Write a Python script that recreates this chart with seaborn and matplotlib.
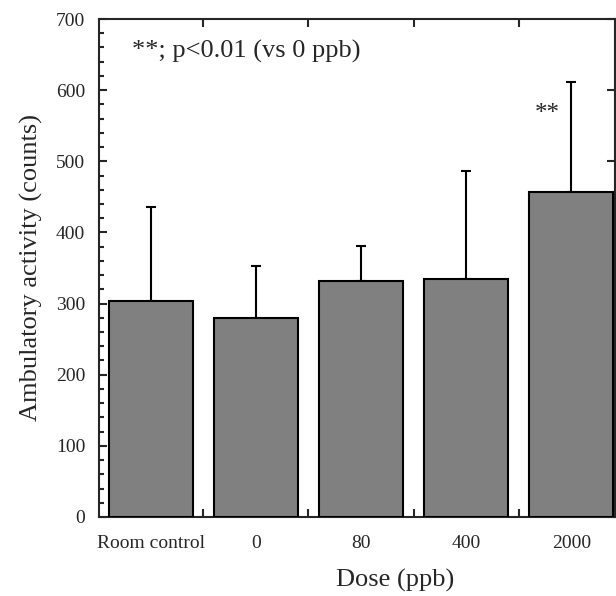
import numpy as np
import pandas as pd
import matplotlib
matplotlib.use('Agg')
import matplotlib.pyplot as plt
import seaborn as sns
from matplotlib.ticker import MultipleLocator, FixedLocator

# values
doses = ['Room control', '0', '80', '400', '2000']
activity = [304, 279, 332, 335, 457]
sd_upper = [132, 74, 49, 152, 154]

df = pd.DataFrame({'dose': doses, 'activity': activity})

sns.set_style('ticks')
plt.rcParams['font.family'] = ['Liberation Serif', 'DejaVu Serif']

fig = plt.figure(figsize=(6.16, 5.96), dpi=100)
ax = fig.add_axes([0.161, 0.1326, 0.838, 0.8355])

sns.barplot(data=df, x='dose', y='activity', order=doses, color='#808080',
            saturation=1, width=0.8, edgecolor='black', linewidth=1.5,
            errorbar=None, ax=ax, zorder=3)

# upward-only error bars
ax.errorbar(np.arange(len(doses)), activity,
            yerr=[np.zeros(len(doses)), sd_upper],
            fmt='none', ecolor='black', elinewidth=1.5, capsize=3.3,
            capthick=1.5, zorder=2)

ax.set_xlim(-0.49, 4.42)
ax.set_ylim(0, 700)

for s in ax.spines.values():
    s.set_linewidth(1.5)
    s.set_visible(True)

ax.yaxis.set_major_locator(MultipleLocator(100))
ax.yaxis.set_minor_locator(MultipleLocator(20))
ax.tick_params(axis='y', which='major', direction='in', length=6, width=1.5,
               labelsize=14, pad=10, right=True)
ax.tick_params(axis='y', which='minor', direction='in', length=3.5, width=1.5,
               right=False)

ax.xaxis.set_minor_locator(FixedLocator([0.5, 1.5, 2.5, 3.5]))
ax.tick_params(axis='x', which='major', length=0, labelsize=14, pad=13)
ax.tick_params(axis='x', which='minor', direction='in', length=6, width=1.5,
               top=True)

ax.set_xlabel('Dose (ppb)', fontsize=19)
ax.xaxis.set_label_coords(0.573, -0.105)
ax.set_ylabel('Ambulatory activity (counts)', fontsize=19, labelpad=9)

ax.text(0.063, 0.9217, '**; p<0.01 (vs 0 ppb)', transform=ax.transAxes,
        fontsize=19, ha='left', va='baseline')
ax.text(3.77, 558, '**', fontsize=18, ha='center', va='baseline')

fig.savefig('out.png', dpi=100)
